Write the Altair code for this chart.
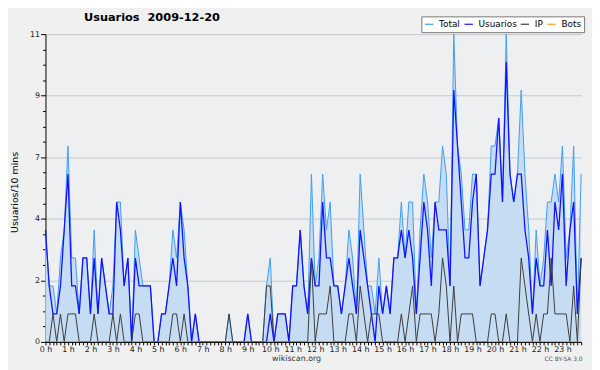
import altair as alt
import pandas as pd

# 10-minute slots of the day (0 = 00:00 ... 143 = 23:50)
slots = list(range(144))

total = [4, 2, 2, 1, 3, 4, 7, 3, 3, 1,
         3, 3, 1, 4, 1, 3, 2, 1, 2, 5,
         5, 2, 3, 0, 4, 3, 2, 2, 2, 0,
         0, 1, 1, 2, 4, 3, 5, 4, 2, 0,
         1, 0, 0, 0, 0, 0, 0, 0, 0, 1,
         0, 0, 0, 0, 1, 0, 0, 0, 0, 2,
         3, 0, 1, 1, 1, 0, 2, 2, 4, 2,
         1, 6, 2, 3, 6, 4, 5, 2, 2, 1,
         2, 4, 3, 1, 6, 4, 2, 2, 1, 3,
         1, 2, 1, 3, 3, 5, 3, 5, 5, 1,
         4, 6, 5, 3, 5, 5, 7, 6, 2, 11,
         7, 6, 4, 4, 6, 6, 2, 3, 4, 7,
         7, 8, 5, 11, 6, 5, 6, 9, 6, 4,
         1, 4, 2, 3, 5, 5, 6, 5, 7, 3,
         4, 7, 1, 6]

usuarios = [4, 2, 1, 1, 2, 4, 6, 2, 2, 1,
            3, 3, 1, 3, 1, 3, 2, 1, 1, 5,
            4, 2, 3, 0, 3, 2, 2, 2, 2, 0,
            0, 1, 1, 2, 3, 2, 5, 3, 2, 0,
            1, 0, 0, 0, 0, 0, 0, 0, 0, 0,
            0, 0, 0, 0, 1, 0, 0, 0, 0, 0,
            1, 0, 1, 1, 1, 0, 2, 2, 4, 2,
            1, 3, 2, 2, 5, 3, 3, 2, 2, 1,
            2, 3, 2, 1, 4, 3, 2, 1, 0, 2,
            1, 2, 1, 3, 3, 4, 3, 4, 3, 1,
            3, 5, 4, 2, 5, 4, 4, 4, 2, 9,
            7, 5, 3, 3, 5, 6, 2, 3, 4, 6,
            6, 8, 5, 10, 6, 5, 6, 6, 4, 3,
            1, 3, 2, 2, 4, 2, 5, 4, 6, 2,
            4, 5, 1, 3]

ip = [0, 0, 1, 0, 1, 0, 1, 1, 1, 0,
      0, 0, 0, 1, 0, 0, 0, 0, 1, 0,
      1, 0, 0, 0, 1, 1, 0, 0, 0, 0,
      0, 0, 0, 0, 1, 1, 0, 1, 0, 0,
      0, 0, 0, 0, 0, 0, 0, 0, 0, 1,
      0, 0, 0, 0, 0, 0, 0, 0, 0, 2,
      2, 0, 0, 0, 0, 0, 0, 0, 0, 0,
      0, 3, 0, 1, 1, 1, 2, 0, 0, 0,
      0, 1, 1, 0, 2, 1, 0, 1, 1, 1,
      0, 0, 0, 0, 0, 1, 0, 1, 2, 0,
      1, 1, 1, 1, 0, 1, 3, 2, 0, 2,
      0, 1, 1, 1, 1, 0, 0, 0, 0, 1,
      1, 0, 0, 1, 0, 0, 0, 3, 2, 1,
      0, 1, 0, 1, 1, 3, 1, 1, 1, 1,
      0, 2, 0, 3]

bots = [0, 0, 0, 0, 0, 0, 0, 0, 0, 0,
        0, 0, 0, 0, 0, 0, 0, 0, 0, 0,
        0, 0, 0, 0, 0, 0, 0, 0, 0, 0,
        0, 0, 0, 0, 0, 0, 0, 0, 0, 0,
        0, 0, 0, 0, 0, 0, 0, 0, 0, 0,
        0, 0, 0, 0, 0, 0, 0, 0, 0, 0,
        0, 0, 0, 0, 0, 0, 0, 0, 0, 0,
        0, 0, 0, 0, 0, 0, 0, 0, 0, 0,
        0, 0, 0, 0, 0, 0, 0, 0, 0, 0,
        0, 0, 0, 0, 0, 0, 0, 0, 0, 0,
        0, 0, 0, 0, 0, 0, 0, 0, 0, 0,
        0, 0, 0, 0, 0, 0, 0, 0, 0, 0,
        0, 0, 0, 0, 0, 0, 0, 0, 0, 0,
        0, 0, 0, 0, 0, 0, 0, 0, 0, 0,
        0, 0, 0, 0]

y_ticks = [0, 0.55, 1.1, 1.65, 2.2, 2.75, 3.3, 3.85, 4.4, 4.95, 5.5,
           6.05, 6.6, 7.15, 7.7, 8.25, 8.8, 9.35, 9.9, 10.45, 11]

series_names = ["Total", "Usuarios", "IP", "Bots"]
series_colors = ["#3d9df5", "#1212ff", "#3c3c3c", "#ffa020"]

df = pd.DataFrame({"slot": slots, "Total": total, "Usuarios": usuarios,
                   "IP": ip, "Bots": bots})

xscale = alt.Scale(domain=[0, 143], nice=False, zero=False)
yscale = alt.Scale(domain=[0, 11], nice=False)
color_scale = alt.Scale(domain=series_names, range=series_colors)

major = "round(datum.value * 100) % 220 == 0"

y_axis = alt.Axis(
    values=y_ticks,
    labelExpr=f"{major} ? format(datum.value, '.0f') : ''",
    labelFontSize=8, labelColor="#222", labelPadding=1,
    tickSize={"condition": {"test": major, "value": 5}, "value": 3},
    tickColor="black", domainColor="black",
    grid=True, gridColor="#c8c8c8",
    gridOpacity={"condition": {"test": major, "value": 1}, "value": 0},
    title="Usuarios/10 mins", titleFontSize=9.5, titleFontWeight="normal",
    titleColor="black", titleX=-31, titleY=160, titleAlign="center",
    titleBaseline="middle",
)

x_axis_main = alt.Axis(
    values=slots,
    labelExpr="datum.value % 6 == 0 ? (datum.value / 6) + ' h' : ''",
    labelOverlap=False, labelFlush=False, labelFontSize=8, labelColor="#222",
    labelPadding=1, tickSize=3, tickColor="black", domainColor="black",
    grid=False, zindex=1,
    title="wikiscan.org", titleFontSize=8, titleFontWeight="normal",
    titleColor="#333", titleX=254, titleY=19, titleAlign="center",
    titleBaseline="alphabetic",
)

x_axis_cc = alt.Axis(
    orient="bottom", labels=False, ticks=False, domain=False, grid=False,
    title="CC BY-SA 3.0", titleFontSize=6, titleFontWeight="normal",
    titleColor="#555", titleX=544, titleY=19, titleAlign="right",
    titleBaseline="alphabetic",
)

legend = alt.Legend(
    orient="none", legendX=381, legendY=-18, direction="horizontal",
    title=None, fillColor="white", strokeColor="#777", padding=3,
    symbolType="stroke", symbolSize=72, symbolStrokeWidth=1.2,
    labelFontSize=9, labelColor="black", labelOffset=5, columnPadding=1,
)

base = alt.Chart(df)

area = base.mark_area(color="#c6dcf2", opacity=1).encode(
    x=alt.X("slot:Q", scale=xscale, axis=x_axis_main),
    y=alt.Y("Total:Q", scale=yscale, axis=y_axis),
)


def series_line(name, width, xaxis):
    return base.mark_line(strokeWidth=width).transform_calculate(
        series=f"'{name}'"
    ).encode(
        x=alt.X("slot:Q", scale=xscale, axis=xaxis),
        y=alt.Y(f"{name}:Q", scale=yscale, axis=y_axis),
        color=alt.Color("series:N", scale=color_scale, legend=legend),
    )


chart = alt.layer(
    area,
    series_line("Total", 1, x_axis_cc),
    series_line("Usuarios", 1.3, None),
    series_line("IP", 1, None),
    series_line("Bots", 1, None),
).resolve_axis(x="independent").properties(
    width=543, height=312,
    title=alt.TitleParams("Usuarios\u00a0 2009-12-20", anchor="start", frame="group",
                          dx=39, dy=13, offset=-4, baseline="alphabetic",
                          font="DejaVu Sans", fontSize=11.5, fontWeight="bold",
                          color="black"),
    padding={"left": 38, "top": 24, "right": 11, "bottom": 26},
    autosize=alt.AutoSizeParams(type="none"),
).configure(
    background="#f0f0f0", font="DejaVu Sans",
).configure_view(fill="#eeeff1", stroke=None)

chart.save("out.html", embed_options={"renderer": "svg", "actions": False})
